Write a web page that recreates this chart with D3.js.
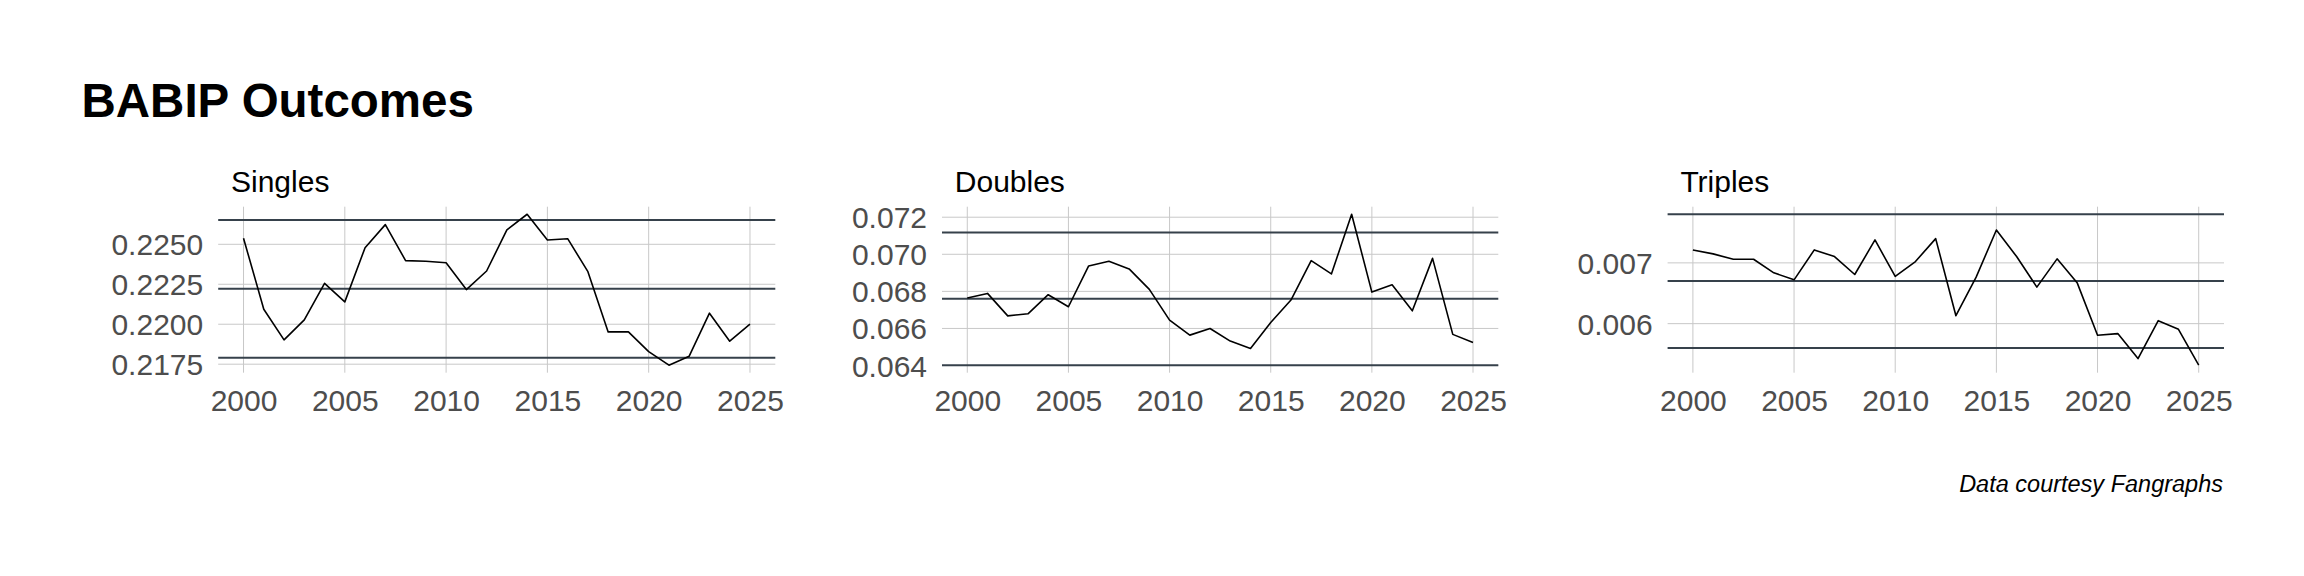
<!DOCTYPE html>
<html>
<head>
<meta charset="utf-8">
<script src="https://cdn.jsdelivr.net/npm/d3@7"></script>
<style>
  html, body { margin: 0; padding: 0; background: #ffffff; }
  svg { display: block; font-family: "Liberation Sans", Arial, sans-serif; }
</style>
</head>
<body>
<svg id="chart" width="2304" height="576"></svg>
<script>
// ---- data ----
const years = [2000,2001,2002,2003,2004,2005,2006,2007,2008,2009,2010,2011,2012,
               2013,2014,2015,2016,2017,2018,2019,2020,2021,2022,2023,2024,2025];
const xTicks = [2000, 2005, 2010, 2015, 2020, 2025];

const singles = [0.22538,0.22094,0.21902,0.22027,0.22256,0.22140,0.22479,0.22623,0.22398,0.22394,
                 0.22385,0.22217,0.22333,0.22590,0.22688,0.22527,0.22535,0.22329,0.21952,0.21952,
                 0.21829,0.21744,0.21800,0.22069,0.21894,0.22000];
const doubles = [0.06764,0.06789,0.06668,0.06679,0.06782,0.06717,0.06937,0.06962,0.06921,0.06811,
                 0.06645,0.06564,0.06600,0.06532,0.06492,0.06632,0.06753,0.06966,0.06894,0.07216,
                 0.06796,0.06836,0.06695,0.06978,0.06568,0.06524];
const triples = [0.007213,0.007148,0.007060,0.007060,0.006836,0.006721,0.007213,0.007104,0.006809,0.007377,
                 0.006776,0.007022,0.007399,0.006131,0.006765,0.007541,0.007104,0.006601,0.007066,0.006667,
                 0.005809,0.005836,0.005426,0.006049,0.005907,0.005317];

const singlesRefs = [0.22652, 0.222225, 0.21791];
const doublesRefs = [0.07117, 0.06760, 0.06402];
const triplesRefs = [0.00780, 0.00670, 0.00560];

const singlesTicks = [0.2175, 0.2200, 0.2225, 0.2250];
const doublesTicks = [0.064, 0.066, 0.068, 0.070, 0.072];
const triplesTicks = [0.006, 0.007];

const panelTitles = ["Singles", "Doubles", "Triples"];
const chartTitle = "BABIP Outcomes";
const caption = "Data courtesy Fangraphs";

// ---- layout ----
const panels = [
  { title: panelTitles[0], values: singles, refs: singlesRefs, ticks: singlesTicks, fmt: ".4f", left: 218.2, right: 775.3 },
  { title: panelTitles[1], values: doubles, refs: doublesRefs, ticks: doublesTicks, fmt: ".3f", left: 942.0, right: 1498.3 },
  { title: panelTitles[2], values: triples, refs: triplesRefs, ticks: triplesTicks, fmt: ".3f", left: 1667.6, right: 2224.0 }
];
const panelTop = 206.7, panelBottom = 372.7;

const svg = d3.select("#chart");

svg.append("text")
  .attr("x", 81.5).attr("y", 116.7)
  .attr("font-size", 47.5).attr("font-weight", "bold").attr("fill", "#000")
  .text(chartTitle);

svg.append("text")
  .attr("x", 2223).attr("y", 491.7)
  .attr("text-anchor", "end")
  .attr("font-size", 23.5).attr("font-style", "italic").attr("fill", "#000")
  .text(caption);

panels.forEach(p => {
  const g = svg.append("g");
  const xr = d3.max(years) - d3.min(years);
  const x = d3.scaleLinear()
    .domain([d3.min(years) - 0.05 * xr, d3.max(years) + 0.05 * xr])
    .range([p.left, p.right]);

  const ext = d3.extent(p.values.concat(p.refs));
  const yr = ext[1] - ext[0];
  const y = d3.scaleLinear()
    .domain([ext[0] - 0.05 * yr, ext[1] + 0.05 * yr])
    .range([panelBottom, panelTop]);

  // grid
  g.append("g").selectAll("line").data(xTicks).join("line")
    .attr("x1", d => x(d)).attr("x2", d => x(d))
    .attr("y1", panelTop).attr("y2", panelBottom)
    .attr("stroke", "#c8c8c8").attr("stroke-width", 1);
  g.append("g").selectAll("line").data(p.ticks).join("line")
    .attr("x1", p.left).attr("x2", p.right)
    .attr("y1", d => y(d)).attr("y2", d => y(d))
    .attr("stroke", "#c8c8c8").attr("stroke-width", 1);

  // axes (text only)
  const xAxis = d3.axisBottom(x).tickValues(xTicks).tickFormat(d3.format("d")).tickSize(0).tickPadding(0);
  const xg = g.append("g").attr("transform", `translate(0,${panelBottom})`).call(xAxis);
  xg.select(".domain").remove();
  xg.selectAll("text")
    .attr("y", 38.3).attr("dy", null)
    .attr("font-size", 30).attr("fill", "#4d4d4d")
    .attr("font-family", "Liberation Sans, Arial, sans-serif");

  const yAxis = d3.axisLeft(y).tickValues(p.ticks).tickFormat(d3.format(p.fmt)).tickSize(0).tickPadding(15);
  const yg = g.append("g").attr("transform", `translate(${p.left},0)`).call(yAxis);
  yg.select(".domain").remove();
  yg.selectAll("text")
    .attr("dy", "0.35em")
    .attr("font-size", 30).attr("fill", "#4d4d4d")
    .attr("font-family", "Liberation Sans, Arial, sans-serif");

  // reference lines
  g.append("g").selectAll("line").data(p.refs).join("line")
    .attr("x1", p.left).attr("x2", p.right)
    .attr("y1", d => y(d)).attr("y2", d => y(d))
    .attr("stroke", "#36414b").attr("stroke-width", 2);

  // series
  const line = d3.line().x((d, i) => x(years[i])).y(d => y(d));
  g.append("path").datum(p.values)
    .attr("d", line)
    .attr("fill", "none").attr("stroke", "#000").attr("stroke-width", 1.6)
    .attr("stroke-linejoin", "round");

  // panel title
  g.append("text")
    .attr("x", p.left + 12.8).attr("y", 191.7)
    .attr("font-size", 30).attr("fill", "#000")
    .text(p.title);
});
</script>
</body>
</html>
